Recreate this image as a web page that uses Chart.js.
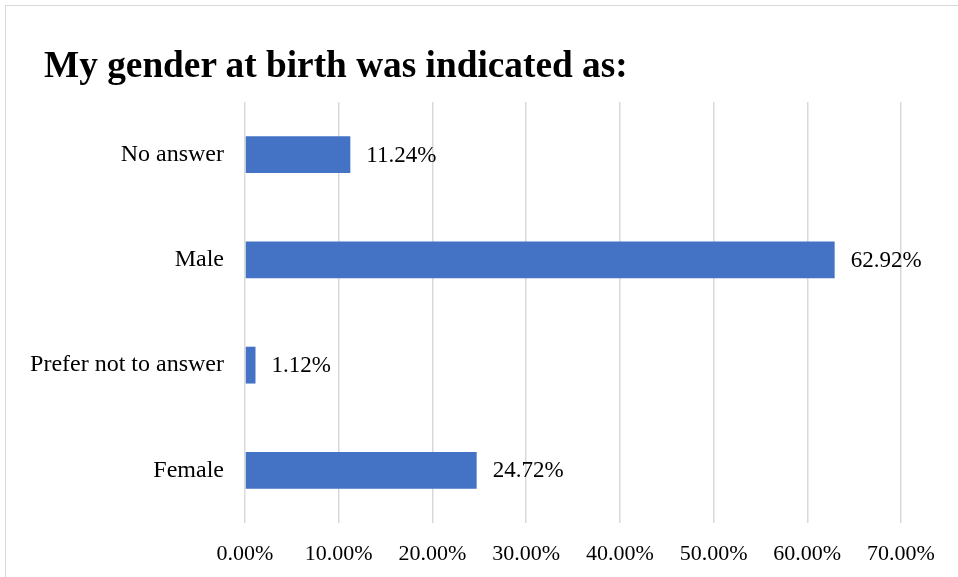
<!DOCTYPE html>
<html>
<head>
<meta charset="utf-8">
<script src="https://cdn.jsdelivr.net/npm/chart.js@4"></script>
<style>
  html, body { margin: 0; padding: 0; background: #fff; overflow: hidden; }
  #wrap { position: relative; width: 958px; height: 577px; }
  #frame {
    position: absolute; left: 5px; top: 5px; width: 1000px; height: 700px;
    border-left: 1px solid #d9d9d9; border-top: 1px solid #d9d9d9;
    pointer-events: none;
  }
  #title {
    position: absolute; left: 44px; top: 45px; margin: 0;
    font: bold 37.3px "Liberation Serif", "Times New Roman", serif;
    line-height: 40px; color: #000; white-space: nowrap;
  }
  canvas { position: absolute; left: 0; top: 0; }
</style>
</head>
<body>
<div id="wrap">
  <canvas id="genderChart" width="958" height="577"></canvas>
  <div id="frame"></div>
  <h1 id="title">My gender at birth was indicated as:</h1>
</div>
<script>
const categories = ['No answer', 'Male', 'Prefer not to answer', 'Female'];
const percentages = [11.24, 62.92, 1.12, 24.72];
const tickValues = [0, 10, 20, 30, 40, 50, 60, 70];

const serif = '"Liberation Serif", "Times New Roman", serif';

// Value labels at the end of each bar
const barLabels = {
    id: 'barLabels',
    afterDatasetsDraw(chart) {
        const ctx = chart.ctx;
        const meta = chart.getDatasetMeta(0);
        ctx.save();
        ctx.font = '23px ' + serif;
        ctx.fillStyle = '#000';
        ctx.textAlign = 'left';
        ctx.textBaseline = 'middle';
        meta.data.forEach((bar, i) => {
            ctx.fillText(percentages[i].toFixed(2) + '%', bar.x + 16, bar.y + 1);
        });
        ctx.restore();
    }
};

new Chart(document.getElementById('genderChart'), {
    type: 'bar',
    data: {
        labels: categories,
        datasets: [{
            data: percentages,
            backgroundColor: '#4472C4',
            categoryPercentage: 1,
            barPercentage: 0.35
        }]
    },
    options: {
        indexAxis: 'y',
        responsive: false,
        animation: false,
        layout: { padding: { top: 102, right: 57, bottom: 0, left: 0 } },
        plugins: {
            legend: { display: false },
            tooltip: { enabled: false }
        },
        scales: {
            x: {
                min: 0,
                max: 70,
                afterBuildTicks(scale) {
                    scale.ticks = tickValues.map(v => ({ value: v }));
                },
                afterFit(scale) { scale.height = 54; },
                grid: { color: '#d9d9d9', lineWidth: 1.5, drawTicks: false },
                border: { display: false },
                ticks: {
                    padding: 18,
                    color: '#000',
                    font: { family: serif, size: 22 },
                    callback: v => v.toFixed(2) + '%'
                }
            },
            y: {
                afterFit(scale) { scale.width = 245; },
                grid: { display: false, drawTicks: false },
                border: { display: false },
                ticks: {
                    padding: 21,
                    color: '#000',
                    font: { family: serif, size: 24 }
                }
            }
        }
    },
    plugins: [barLabels]
});
</script>
</body>
</html>
